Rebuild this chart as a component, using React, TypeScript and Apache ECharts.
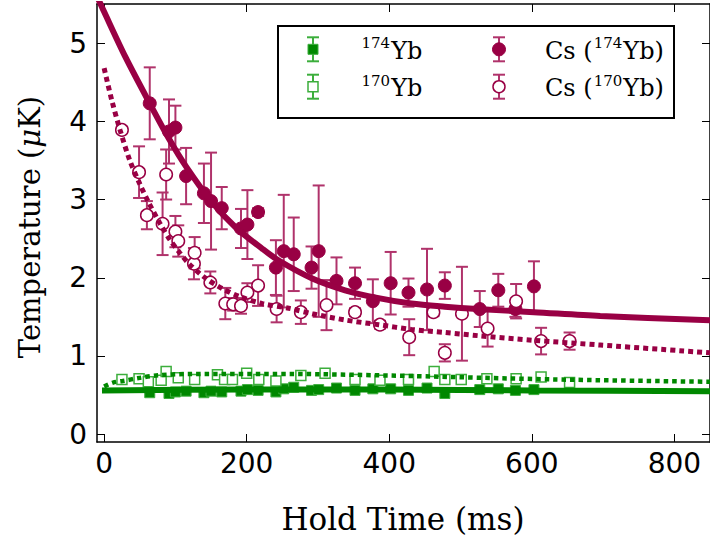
import React, { useEffect, useRef } from 'react';
import * as echarts from 'echarts';

// [hold time (ms), temperature (uK), error]
const CS_174: [number, number, number][] = [
  [64, 4.23, 0.46], [91, 3.87, 0.41], [100, 3.92, 0.28], [115, 3.30, 0.36],
  [140, 3.08, 0.38], [150, 2.98, 0.62], [165, 2.89, 0.27], [192, 2.63, 0.25],
  [201, 2.68, 0.44], [216, 2.84, 0.05], [241, 2.13, 0.35], [252, 2.34, 0.72],
  [266, 2.30, 0.47], [291, 2.13, 0.27], [301, 2.34, 0.84], [326, 1.96, 0.30],
  [352, 1.93, 0.20], [377, 1.70, 0.28], [402, 1.93, 0.40], [427, 1.81, 0.18],
  [453, 1.85, 0.52], [478, 1.90, 0.17], [527, 1.60, 0.23], [553, 1.84, 0.21],
  [577, 1.60, 0.10], [603, 1.89, 0.32],
];
const CS_170: [number, number, number][] = [
  [25, 3.89, 0.04], [49, 3.35, 0.33], [60, 2.80, 0.18], [82, 2.69, 0.40],
  [87, 3.32, 0.32], [100, 2.59, 0.20], [104, 2.47, 0.20], [126, 2.18, 0.20],
  [127, 2.32, 0.20], [149, 1.94, 0.14], [170, 1.67, 0.20], [181, 1.66, 0.08],
  [192, 1.64, 0.10], [201, 1.81, 0.12], [216, 1.90, 0.26], [242, 1.60, 0.17],
  [276, 1.56, 0.15], [312, 1.65, 0.32], [352, 1.56, 0.05], [387, 1.40, 0.05],
  [428, 1.24, 0.23], [462, 1.56, 0.05], [478, 1.04, 0.11], [502, 1.54, 0.60],
  [538, 1.35, 0.23], [578, 1.70, 0.22], [613, 1.19, 0.17], [653, 1.19, 0.11],
];
const YB_174: [number, number][] = [
  [64, 0.53], [91, 0.52], [100, 0.54], [115, 0.55], [140, 0.53], [150, 0.55],
  [165, 0.54], [192, 0.55], [201, 0.57], [216, 0.56], [241, 0.54], [252, 0.58],
  [266, 0.60], [291, 0.56], [301, 0.57], [326, 0.59], [352, 0.56], [377, 0.58],
  [402, 0.58], [427, 0.56], [453, 0.59], [478, 0.52], [527, 0.57], [553, 0.58],
  [577, 0.56], [603, 0.57],
];
const YB_170: [number, number][] = [
  [25, 0.70], [49, 0.71], [62, 0.67], [80, 0.69], [87, 0.80], [104, 0.72],
  [127, 0.70], [159, 0.76], [169, 0.70], [180, 0.70], [200, 0.78], [217, 0.70],
  [241, 0.68], [276, 0.75], [310, 0.78], [352, 0.70], [387, 0.69], [427, 0.70],
  [463, 0.80], [478, 0.70], [501, 0.70], [537, 0.71], [578, 0.71], [613, 0.73],
  [653, 0.66],
];
// fit curves
const FIT_CS_174: [number, number][] = [
  [-10, 5.6], [0, 5.40], [30, 4.82], [64.5, 4.22], [92, 3.76], [115, 3.42],
  [150, 2.98], [185, 2.64], [222, 2.37], [245, 2.22], [292, 1.99], [338, 1.84],
  [385, 1.74], [431, 1.67], [478, 1.63], [524, 1.60], [603, 1.56], [696, 1.51],
  [850, 1.455],
];
const FIT_CS_170: [number, number][] = [
  [0, 4.68], [10.7, 4.27], [22.3, 3.89], [36, 3.50], [50, 3.20], [62, 2.97],
  [78, 2.70], [92, 2.49], [106, 2.32], [120, 2.17], [143, 1.99], [166, 1.86],
  [190, 1.76], [222, 1.67], [259, 1.61], [292, 1.54], [338, 1.46], [385, 1.40],
  [431, 1.34], [478, 1.30], [524, 1.26], [603, 1.20], [696, 1.14], [850, 1.04],
];
const FIT_YB_174: [number, number][] = [
  [-3, 0.56], [200, 0.57], [400, 0.57], [600, 0.56], [850, 0.55],
];
const FIT_YB_170: [number, number][] = [
  [0, 0.61], [12.5, 0.66], [26, 0.68], [50, 0.72], [73, 0.75], [120, 0.77],
  [259, 0.77], [399, 0.75], [631, 0.70], [850, 0.67],
];
const X_TICKS = [0, 200, 400, 600, 800];
const Y_TICKS = [0, 1, 2, 3, 4, 5];

const MAROON = '#990044';
const MAROON_ERR = '#b0336b';
const GREEN = '#008800';
const GREEN_LIGHT = '#3cae3c';
const SERIF = 'DejaVu Serif';
const SANS = 'DejaVu Sans';
const LEG_SIZE = 24;
const SUP_SIZE = 15;

let measureCtx: CanvasRenderingContext2D | null = null;
function measure(text: string, size: number): number {
  if (!measureCtx) measureCtx = document.createElement('canvas').getContext('2d');
  if (!measureCtx) return text.length * size * 0.6;
  measureCtx.font = `${size}px "${SERIF}"`;
  return measureCtx.measureText(text).width;
}

function errSeries(data: [number, number, number][], color: string) {
  return {
    type: 'custom',
    data: data.map((d) => [d[0], d[1], d[2]]),
    encode: { x: 0, y: 1 },
    z: 1,
    silent: true,
    renderItem: (_params: any, api: any) => {
      const x = api.value(0);
      const y = api.value(1);
      const e = api.value(2);
      const top = api.coord([x, y + e]);
      const bot = api.coord([x, y - e]);
      const w = 6;
      const style = { stroke: color, lineWidth: 2 };
      return {
        type: 'group',
        children: [
          { type: 'line', shape: { x1: top[0], y1: top[1], x2: bot[0], y2: bot[1] }, style },
          { type: 'line', shape: { x1: top[0] - w, y1: top[1], x2: top[0] + w, y2: top[1] }, style },
          { type: 'line', shape: { x1: bot[0] - w, y1: bot[1], x2: bot[0] + w, y2: bot[1] }, style },
        ],
      };
    },
  };
}

function legendMarker(cx: number, cy: number, kind: string, errColor: string): any[] {
  const style = { stroke: errColor, lineWidth: 2 };
  const els: any[] = [
    { type: 'line', shape: { x1: cx, y1: cy - 12, x2: cx, y2: cy + 12 }, style },
    { type: 'line', shape: { x1: cx - 6, y1: cy - 12, x2: cx + 6, y2: cy - 12 }, style },
    { type: 'line', shape: { x1: cx - 6, y1: cy + 12, x2: cx + 6, y2: cy + 12 }, style },
  ];
  if (kind === 'sqFilled') {
    els.push({ type: 'rect', shape: { x: cx - 5, y: cy - 5, width: 10, height: 10 }, style: { fill: GREEN, stroke: GREEN_LIGHT, lineWidth: 1 } });
  } else if (kind === 'sqOpen') {
    els.push({ type: 'rect', shape: { x: cx - 5, y: cy - 5, width: 10, height: 10 }, style: { fill: '#fff', stroke: GREEN_LIGHT, lineWidth: 1.5 } });
  } else if (kind === 'ciFilled') {
    els.push({ type: 'circle', shape: { cx, cy, r: 6.5 }, style: { fill: MAROON, stroke: MAROON, lineWidth: 1 } });
  } else {
    els.push({ type: 'circle', shape: { cx, cy, r: 6 }, style: { fill: '#fff', stroke: MAROON, lineWidth: 1.5 } });
  }
  return els;
}

function txt(x: number, y: number, text: string, size: number): any {
  return {
    type: 'text',
    x,
    y,
    style: { text, fontFamily: SERIF, fontSize: size, fill: '#000', align: 'left', verticalAlign: 'middle' },
  };
}

// label made of [prefix, superscript, suffix] laid out left to right
function legendLabel(x: number, rowY: number, prefix: string, sup: string, suffix: string): any[] {
  const els: any[] = [];
  let cx = x;
  if (prefix) {
    els.push(txt(cx, rowY + 1.5, prefix, LEG_SIZE));
    cx += measure(prefix, LEG_SIZE) + 1;
  }
  els.push(txt(cx, rowY - 6, sup, SUP_SIZE));
  cx += measure(sup, SUP_SIZE) + 1;
  els.push(txt(cx, rowY + 1.5, suffix, LEG_SIZE));
  return els;
}

export default function App() {
  const ref = useRef<HTMLDivElement>(null);
  useEffect(() => {
    const chart = echarts.init(ref.current!, null, { renderer: 'svg' });
    const axisLine = { show: true, onZero: false, lineStyle: { color: '#000', width: 1.5 } };
    const tickStyle = { color: '#000', width: 1 };
    const rows = [49.3, 86.7];
    const option: any = {
      animation: false,
      grid: { left: 97, top: 4, width: 620, height: 438 },
      xAxis: [
        {
          type: 'value', min: -10, max: 850, position: 'bottom',
          axisLine, splitLine: { show: false },
          axisTick: { show: true, inside: true, length: 8, customValues: X_TICKS, lineStyle: tickStyle },
          axisLabel: { show: true, customValues: X_TICKS, fontFamily: SANS, fontSize: 28, color: '#000', margin: 7 },
        },
        {
          type: 'value', min: -10, max: 850, position: 'top',
          axisLine, splitLine: { show: false },
          axisTick: { show: true, inside: true, length: 8, customValues: X_TICKS, lineStyle: tickStyle },
          axisLabel: { show: false },
        },
      ],
      yAxis: [
        {
          type: 'value', min: -0.1, max: 5.5, position: 'left',
          axisLine, splitLine: { show: false },
          axisTick: { show: true, inside: true, length: 8, customValues: Y_TICKS, lineStyle: tickStyle },
          axisLabel: { show: true, customValues: Y_TICKS, fontFamily: SANS, fontSize: 28, color: '#000', margin: 10 },
        },
        {
          type: 'value', min: -0.1, max: 5.5, position: 'right',
          axisLine, splitLine: { show: false },
          axisTick: { show: true, inside: true, length: 8, customValues: Y_TICKS, lineStyle: tickStyle },
          axisLabel: { show: false },
        },
      ],
      series: [
        errSeries(CS_174, MAROON_ERR),
        errSeries(CS_170, MAROON_ERR),
        {
          type: 'scatter', data: YB_174, symbol: 'rect', symbolSize: 10, z: 2,
          itemStyle: { color: GREEN, borderColor: GREEN_LIGHT, borderWidth: 1, opacity: 1 },
        },
        {
          type: 'scatter', data: YB_170, symbol: 'rect', symbolSize: 10, z: 2,
          itemStyle: { color: '#fff', borderColor: GREEN_LIGHT, borderWidth: 1.5, opacity: 1 },
        },
        {
          type: 'scatter', data: CS_174.map((d) => [d[0], d[1]]), symbol: 'circle', symbolSize: 13, z: 2,
          itemStyle: { color: MAROON, borderColor: MAROON, borderWidth: 1, opacity: 1 },
        },
        {
          type: 'scatter', data: CS_170.map((d) => [d[0], d[1]]), symbol: 'circle', symbolSize: 12.5, z: 2,
          itemStyle: { color: '#fff', borderColor: MAROON, borderWidth: 1.5, opacity: 1 },
        },
        {
          type: 'line', data: FIT_YB_174, showSymbol: false, symbol: 'none', smooth: 0.3, z: 3,
          lineStyle: { color: GREEN, width: 6 },
        },
        {
          type: 'line', data: FIT_YB_170, showSymbol: false, symbol: 'none', smooth: 0.3, z: 3,
          lineStyle: { color: GREEN, width: 4.5, type: [4.5, 4], cap: 'butt' },
        },
        {
          type: 'line', data: FIT_CS_174, showSymbol: false, symbol: 'none', smooth: 0.3, z: 3,
          lineStyle: { color: MAROON, width: 6 },
        },
        {
          type: 'line', data: FIT_CS_170, showSymbol: false, symbol: 'none', smooth: 0.3, z: 3,
          lineStyle: { color: MAROON, width: 5, type: [5, 4], cap: 'butt' },
        },
      ],
      graphic: [
        {
          type: 'text', x: 403, y: 519,
          style: { text: 'Hold Time (ms)', fontFamily: SERIF, fontSize: 31, fill: '#000', align: 'center', verticalAlign: 'middle' },
        },
        {
          type: 'text', x: 30, y: 227, rotation: Math.PI / 2,
          style: {
            text: 'Temperature ({i|μ}K)', fontFamily: SERIF, fontSize: 29, fill: '#000', align: 'center', verticalAlign: 'middle',
            rich: { i: { fontFamily: SERIF, fontStyle: 'italic', fontSize: 29, fill: '#000' } },
          },
        },
        {
          type: 'group', z: 100,
          children: [
            { type: 'rect', shape: { x: 278, y: 26, width: 396, height: 92 }, style: { fill: '#fff', stroke: '#000', lineWidth: 2 } },
            ...legendMarker(313, rows[0], 'sqFilled', GREEN_LIGHT),
            ...legendMarker(313, rows[1], 'sqOpen', GREEN_LIGHT),
            ...legendMarker(499, rows[0], 'ciFilled', MAROON_ERR),
            ...legendMarker(499, rows[1], 'ciOpen', MAROON_ERR),
            ...legendLabel(361.5, rows[0], '', '174', 'Yb'),
            ...legendLabel(361.5, rows[1], '', '170', 'Yb'),
            ...legendLabel(545, rows[0], 'Cs (', '174', 'Yb)'),
            ...legendLabel(545, rows[1], 'Cs (', '170', 'Yb)'),
          ],
        },
      ],
    };
    chart.setOption(option);
    return () => chart.dispose();
  }, []);
  return <div ref={ref} style={{ position: 'absolute', left: 0, top: 0, width: 710, height: 543 }} />;
}
